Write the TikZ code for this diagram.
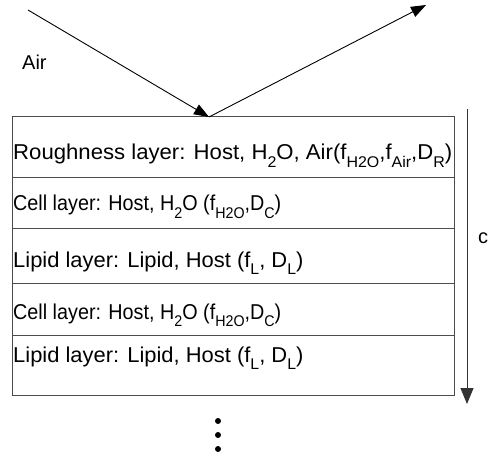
\documentclass[tikz,border=0pt]{standalone}
\usepackage{fontspec}
\setmainfont{Liberation Sans}
\usetikzlibrary{arrows.meta}
\newcommand\lsub[1]{\raisebox{-0.33em}{\fontsize{15.5}{16}\selectfont #1}}
\begin{document}
\begin{tikzpicture}[x=1pt,y=-1pt,
  layerbox/.style={draw=black!70, line width=1pt},
  lbl/.style={anchor=base west, inner sep=0pt, font=\fontsize{21.5}{24}\selectfont},
  ray/.style={line width=0.9pt, -{Triangle[length=15pt,width=11pt]}},
  depth/.style={line width=0.9pt, draw=black!80, -{Triangle[length=16pt,width=13pt]}},
  dotmark/.style={fill=black, circle, inner sep=0pt, minimum size=6pt}]
\useasboundingbox (0,0) rectangle (488,460);
% layers
\draw[layerbox] (12,117) rectangle (454,177);
\draw[layerbox] (12,177) rectangle (454,228);
\draw[layerbox] (12,228) rectangle (454,283);
\draw[layerbox] (12,283) rectangle (454,335);
\draw[layerbox] (12,335) rectangle (454,395);
% labels
\node[lbl] (r1) at (13,160) {\scalebox{1.03}[1]{Roughness layer: Host, H\lsub{2}O, Air(f\lsub{H2O},f\lsub{Air},D\lsub{R})}};
\node[lbl] (r2) at (13,211) {\scalebox{0.92}[1]{Cell layer: Host, H\lsub{2}O (f\lsub{H2O},D\lsub{C})}};
\node[lbl] (r3) at (13,267) {\scalebox{1.02}[1]{Lipid layer: Lipid, Host (f\lsub{L}, D\lsub{L})}};
\node[lbl] (r4) at (13,319) {\scalebox{0.92}[1]{Cell layer: Host, H\lsub{2}O (f\lsub{H2O},D\lsub{C})}};
\node[lbl] (r5) at (13,362) {\scalebox{1.02}[1]{Lipid layer: Lipid, Host (f\lsub{L}, D\lsub{L})}};
% rays
\coordinate (src) at (28,10);
\coordinate (hit) at (209,117);
\coordinate (dst) at (426,5);
\draw[ray] (src) -- (hit);
\draw[ray] (hit) -- (dst);
\node[lbl, font=\fontsize{20}{22}\selectfont] (air) at (22,70) {Air};
% depth arrow
\coordinate (dtop) at (467,109);
\coordinate (dbot) at (467,404);
\draw[depth] (dtop) -- (dbot);
\node[lbl, font=\fontsize{20}{22}\selectfont] (dlbl) at (478,243) {c};
% ellipsis
\node[dotmark] (e1) at (218,421) {};
\node[dotmark] (e2) at (218,435) {};
\node[dotmark] (e3) at (218,449) {};
\end{tikzpicture}
\end{document}
